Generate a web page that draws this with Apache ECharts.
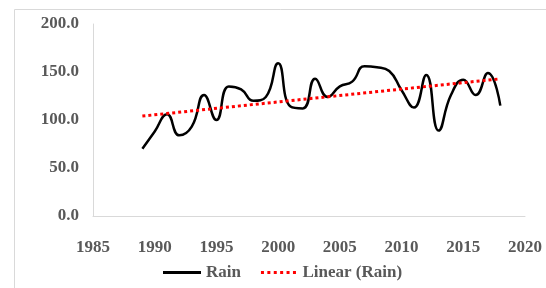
<!DOCTYPE html>
<html><head><meta charset="utf-8">
<script src="https://cdn.jsdelivr.net/npm/echarts@6/dist/echarts.min.js"></script>
<style>html,body{margin:0;padding:0;background:#fff}#c{width:546px;height:288px}</style>
</head><body><div id="c"></div>
<script>
const years = [1989,1990,1991,1992,1993,1994,1995,1996,1997,1998,1999,2000,2001,2002,2003,2004,2005,2006,2007,2008,2009,2010,2011,2012,2013,2014,2015,2016,2017,2018];
const rain = [70,88,106,84,93,126,100,135,132,120,124,159,114,112,143,124,135,140,156,155,151,131,113,147,89,126,142,126,149,115];
const xTicks = [1985,1990,1995,2000,2005,2010,2015,2020];
const yTicks = [0,50,100,150,200];

// least-squares linear trend (as Excel's "Linear (Rain)")
const n = years.length;
const mx = years.reduce((a,b)=>a+b,0)/n, my = rain.reduce((a,b)=>a+b,0)/n;
let sxy=0, sxx=0;
for (let i=0;i<n;i++){ sxy+=(years[i]-mx)*(rain[i]-my); sxx+=(years[i]-mx)**2; }
const slope = sxy/sxx, icpt = my - slope*mx;
const trendYears = [years[0], years[n-1]];

const dotIcon = 'path://' + Array.from({length:6},(_,k)=>'M'+(k*6.4)+',0h3v3h-3z').join('') ;

const chart = echarts.init(document.getElementById('c'));
const font = {fontFamily:'Liberation Serif', fontWeight:'bold', fontSize:17, color:'#595959'};
chart.setOption({
  animation:false,
  graphic:[{type:'rect', shape:{x:14.5,y:9.5,width:600,height:400}, style:{fill:'none', stroke:'#d9d9d9', lineWidth:1}, silent:true}],
  grid:{left:93, right:21, top:24, bottom:72},
  xAxis:{type:'value', min:xTicks[0], max:xTicks[xTicks.length-1], interval:5,
    axisLine:{show:true, lineStyle:{color:'#d9d9d9', width:1}}, axisTick:{show:false}, splitLine:{show:false},
    axisLabel:Object.assign({margin:23, formatter:v=>String(v)}, font)},
  yAxis:{type:'value', min:yTicks[0], max:yTicks[yTicks.length-1], interval:50,
    axisLine:{show:true, lineStyle:{color:'#d9d9d9', width:1}}, axisTick:{show:false}, splitLine:{show:false},
    axisLabel:Object.assign({margin:14, formatter:v=>v.toFixed(1)}, font)},
  legend:{top:264, left:163, padding:0, itemWidth:38, itemHeight:3, itemGap:20,
    textStyle:{fontFamily:'Liberation Serif', fontWeight:'bold', fontSize:17, color:'#595959'},
    data:[{name:'Rain', icon:'path://M0,0h38v3h-38z'},{name:'Linear (Rain)', icon:dotIcon}]},
  series:[
    {name:'Rain', type:'line', smooth:0.5, symbol:'none', data:years.map((y,i)=>[y,rain[i]]),
      lineStyle:{color:'#000', width:2.5}, itemStyle:{color:'#000'}},
    {name:'Linear (Rain)', type:'line', symbol:'none', data:trendYears.map(y=>[y, icpt+slope*y]),
      lineStyle:{color:'#ff0000', width:3, type:[3,3]}, itemStyle:{color:'#ff0000'}}
  ]
});
</script></body></html>
